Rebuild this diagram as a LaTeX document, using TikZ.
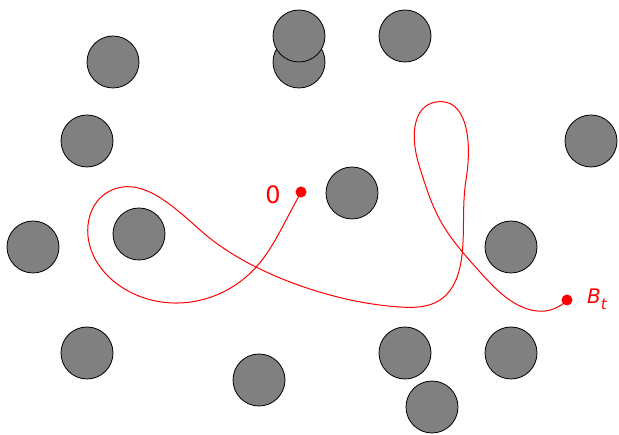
\documentclass[tikz,border=0pt]{standalone}
\usepackage{fontspec}
\setmainfont{DejaVu Sans}
\usetikzlibrary{hobby}
\begin{document}
\begin{tikzpicture}[x=1pt,y=-1pt,
  obstacle/.style={circle,draw=black,fill=gray,minimum size=52pt,inner sep=0pt,line width=0.8pt},
  dot/.style={circle,fill=red,minimum size=11pt,inner sep=0pt},
  lbl/.style={text=red,inner sep=0pt}]
\useasboundingbox (0,0) rectangle (619,435);
\node[obstacle] (c1) at (113,62) {};
\node[obstacle] (c2) at (299,62) {};
\node[obstacle] (c3) at (299,36) {};
\node[obstacle] (c4) at (405,36) {};
\node[obstacle] (c5) at (87,141) {};
\node[obstacle] (c6) at (591,141) {};
\node[obstacle] (c7) at (352,193) {};
\node[obstacle] (c8) at (33,247) {};
\node[obstacle] (c9) at (139,234) {};
\node[obstacle] (c10) at (511,247) {};
\node[obstacle] (c11) at (87,353) {};
\node[obstacle] (c12) at (405,353) {};
\node[obstacle] (c13) at (511,353) {};
\node[obstacle] (c14) at (259,380) {};
\node[obstacle] (c15) at (432,407) {};
\draw[red,line width=1pt,use Hobby shortcut] (301,192) .. (284,224) .. (258,265) .. (205,299) .. (130,292) .. (88,225) .. (108,192) .. (200,230) .. (273,275) .. (330,295) .. (400,307) .. (440,300) .. (462,255) .. (466,180) .. (436,102) .. (419,165) .. (440,220) .. (480,272) .. (520,306) .. (545,311) .. (567,300);
\node[dot] (start) at (301,192) {};
\node[dot] (end) at (567,300) {};
\node[lbl,font=\fontsize{24}{24}\selectfont] (l0) at (273,195) {0};
\node[lbl,anchor=west,font=\fontsize{20}{20}\selectfont] (lb) at (587,299) {\itshape B\raisebox{-0.3em}{\fontsize{15}{15}\selectfont t}};
\end{tikzpicture}
\end{document}
